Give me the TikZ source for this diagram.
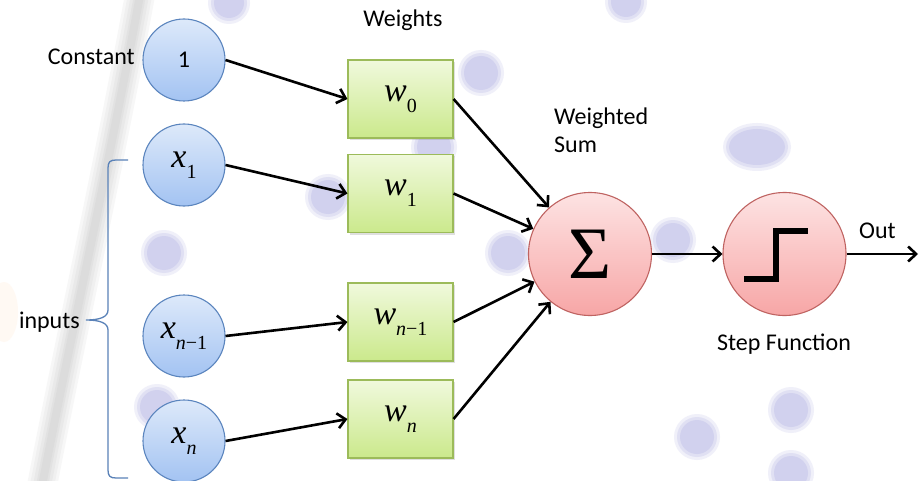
\documentclass[tikz,border=0pt]{standalone}
\usepackage{fontspec}
\setmainfont{Carlito}
\newfontfamily\tnr{Liberation Serif}
\usetikzlibrary{arrows.meta,shadows}
\definecolor{bluetop}{HTML}{DDE9FA}
\definecolor{bluebot}{HTML}{A3C3F2}
\definecolor{blueline}{HTML}{5B85BE}
\definecolor{redtop}{HTML}{FDE3E3}
\definecolor{redbot}{HTML}{F7A6A6}
\definecolor{redline}{HTML}{BF6361}
\definecolor{greentop}{HTML}{F0F9DC}
\definecolor{greenbot}{HTML}{CBE98C}
\definecolor{greenline}{HTML}{9CBB5A}
\definecolor{dotcol}{HTML}{C4C4EA}
\definecolor{bracecol}{HTML}{5A82B8}
\newcommand{\mvar}[2]{{\tnr\fontsize{34}{34}\selectfont\itshape #1}\raisebox{-11pt}{\tnr\fontsize{20}{20}\selectfont #2}}
\newcommand{\bgdot}[3]{%
  \fill[dotcol,opacity=0.25] (#1,#2) circle[radius=#3+3];
  \fill[dotcol,opacity=0.35] (#1,#2) circle[radius=#3];
  \fill[dotcol,opacity=0.5] (#1,#2) circle[radius=#3-3];}
\tikzset{
  inc/.style={circle,draw=blueline,line width=1.1pt,top color=bluetop,bottom color=bluebot,minimum size=82pt,inner sep=0pt},
  redc/.style={circle,draw=redline,line width=1.1pt,top color=redtop,bottom color=redbot,minimum size=123pt,inner sep=0pt},
  wbox/.style={rectangle,draw=greenline,line width=1.1pt,top color=greentop,bottom color=greenbot,minimum width=105pt,minimum height=78pt,inner sep=0pt,
    drop shadow={shadow xshift=1.5pt,shadow yshift=-2pt,opacity=0.25}},
  lbl/.style={font=\fontsize{24}{26}\selectfont,inner sep=0pt},
  arr/.style={line width=2.6pt,-{Straight Barb[length=8pt,width=15pt]}},
  band/.style={gray,line width=#1,opacity=0.06}
}
\begin{document}
\begin{tikzpicture}[x=1pt,y=-1pt]
\useasboundingbox (0,0) rectangle (923,481);
\fill[white] (0,0) rectangle (923,481);
% faint background decoration
\fill[orange!25,opacity=0.18] (4,312) ellipse[x radius=14,y radius=30];
\foreach \w in {30,24,18,12,8}
  \draw[band=\w pt] (140,-5) .. controls (110,160) and (72,330) .. (42,486);
\bgdot{229}{3}{18}
\bgdot{481}{73}{20}
\bgdot{626}{2}{18}
\fill[dotcol,opacity=0.25] (757,147) ellipse[x radius=34,y radius=24];
\fill[dotcol,opacity=0.35] (757,147) ellipse[x radius=31,y radius=21];
\fill[dotcol,opacity=0.5] (757,147) ellipse[x radius=28,y radius=18];
\bgdot{434}{147}{20}
\bgdot{328}{197}{20}
\bgdot{164}{253}{20}
\bgdot{508}{253}{20}
\bgdot{673}{240}{20}
\bgdot{157}{407}{20}
\bgdot{697}{437}{20}
\bgdot{791}{410}{20}
\bgdot{791}{473}{20}
% input nodes
\node[inc] (c1) at (184,60) {\fontsize{24}{26}\selectfont 1};
\node[inc] (x1) at (184,165) {\mvar{x}{1}};
\node[inc] (xn1) at (184,336) {\mvar{x}{\textit{n}−1}};
\node[inc] (xn) at (184,441) {\mvar{x}{\textit{n}}};
% weight boxes
\node[wbox] (w0) at (400.5,99) {\mvar{w}{0}};
\node[wbox] (w1) at (400.5,193.5) {\mvar{w}{1}};
\node[wbox] (wn1) at (400.5,322) {\mvar{w}{\textit{n}−1}};
\node[wbox] (wn) at (400.5,419) {\mvar{w}{\textit{n}}};
% sum and step
\node[redc] (sum) at (590,254) {\tnr\fontsize{74}{74}\selectfont Σ};
\node[redc] (step) at (784.5,254) {};
\draw[line width=6pt,miter limit=10] ([shift={(-40.5,24.5)}]step.center) -- ([shift={(-9,24.5)}]step.center) -- ([shift={(-9,-23.5)}]step.center) -- ([shift={(23.5,-23.5)}]step.center);
\coordinate (out) at (918,254);
% labels
\node[lbl,anchor=base] (lw) at (403,27) {Weights};
\node[lbl,anchor=base east] (lc) at (135,65) {Constant};
\node[lbl,anchor=base east] (li) at (80,328) {inputs};
\node[lbl,anchor=base west,align=left] (lws) at (554,153) {Weighted\\[2pt]Sum};
\node[lbl,anchor=base west] (lo) at (859,238) {Out};
\node[lbl,anchor=base] (ls) at (784,350) {Step Function};
% brace
\draw[bracecol,line width=1.3pt] (128,160) -- (116,160) .. controls (110,160) and (108,162) .. (108,168) -- (108,310) .. controls (108,317) and (100,320) .. (86,320) .. controls (100,320) and (108,323) .. (108,330) -- (108,470) .. controls (108,476) and (110,478) .. (116,478) -- (128,478);
% connectors
\draw[arr] (c1.east) -- (w0.west);
\draw[arr] (x1.east) -- (w1.west);
\draw[arr] (xn1.east) -- (wn1.west);
\draw[arr] (xn.east) -- (wn.west);
\draw[arr] (w0.east) -- (sum);
\draw[arr] (w1.east) -- (sum);
\draw[arr] (wn1.east) -- (sum);
\draw[arr] (wn.east) -- (sum);
\draw[arr] (sum) -- (step);
\draw[arr] (step) -- (out);
\end{tikzpicture}
\end{document}
